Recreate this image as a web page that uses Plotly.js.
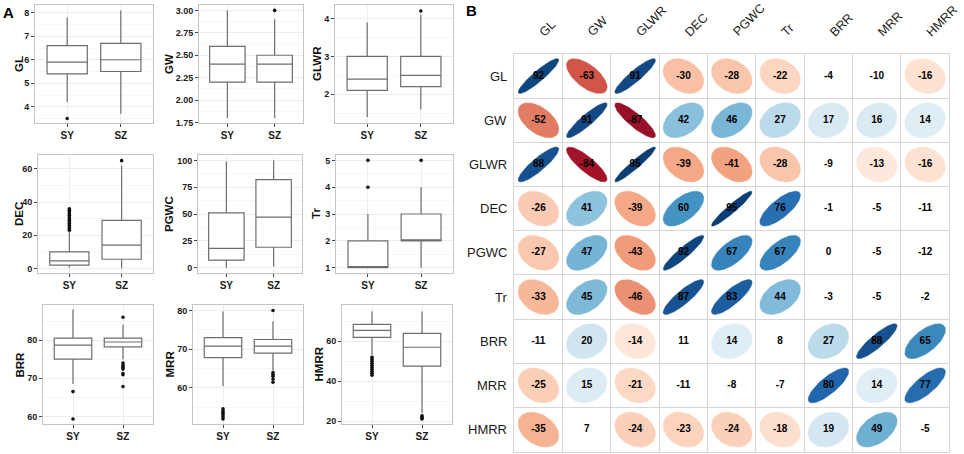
<!DOCTYPE html>
<html><head><meta charset="utf-8">
<script src="https://cdn.plot.ly/plotly-3.0.1.min.js"></script>
<style>html,body{margin:0;padding:0;background:#fff;}#chart{width:964px;height:454px;}</style>
</head><body><div id="chart"></div>
<script>
// ---------- DATA ----------
const groups = ['SY', 'SZ'];
const boxVars = ['GL', 'GW', 'GLWR', 'DEC', 'PGWC', 'Tr', 'BRR', 'MRR', 'HMRR'];
// each: [lower whisker, Q1, median, Q3, upper whisker] for SY, SZ
const boxGL   = [[4.2, 5.4, 5.9, 6.6, 7.8], [3.7, 5.5, 6.0, 6.7, 8.1]];
const boxGW   = [[1.8, 2.2, 2.4, 2.6, 3.0], [1.8, 2.2, 2.4, 2.5, 2.9]];
const boxGLWR = [[1.4, 2.1, 2.4, 3.0, 3.9], [1.6, 2.2, 2.5, 3.0, 4.1]];
const boxDEC  = [[0.5, 2, 4.5, 10, 22], [0, 5.5, 14, 29, 62]];
const boxPGWC = [[0, 7, 18, 51, 99], [1, 19, 47, 82, 100]];
const boxTr   = [[1, 1, 1, 2, 3], [1, 2, 2, 3, 4]];
const boxBRR  = [[68.5, 75, 78.7, 80.5, 88], [75, 78.2, 79.5, 80.5, 84]];
const boxMRR  = [[60.5, 67.8, 70.8, 73, 79.7], [64.5, 69, 70.8, 72.5, 77.2]];
const boxHMRR = [[53, 62, 65.5, 68.5, 75], [24, 47.5, 57, 64, 75]];
// outliers for SY, SZ
const outGL   = [[3.5], []];
const outGW   = [[], [3.0]];
const outGLWR = [[], [4.2]];
const outDEC  = [[23, 24, 25, 26, 27, 28, 29, 30, 31, 32, 33, 34, 35, 36], [65]];
const outPGWC = [[], []];
const outTr   = [[4, 5], [5]];
const outBRR  = [[66.5, 59.3], [86, 74, 73.4, 72.9, 72.4, 71.2, 70.9, 67.8]];
const outMRR  = [[54.6, 54, 53.5, 53, 52.5, 52], [80, 64, 63.5, 63, 62.3, 61.5]];
const outHMRR = [[52, 51, 50, 49, 48, 47, 46, 45, 44, 43], [22.6, 22, 21.5, 21]];

const corrVars = ['GL', 'GW', 'GLWR', 'DEC', 'PGWC', 'Tr', 'BRR', 'MRR', 'HMRR'];
const corrValues = [
  [92, -63, 91, -30, -28, -22, -4, -10, -16],
  [-52, 91, -87, 42, 46, 27, 17, 16, 14],
  [88, -84, 95, -39, -41, -28, -9, -13, -16],
  [-26, 41, -39, 60, 95, 76, -1, -5, -11],
  [-27, 47, -43, 92, 67, 67, 0, -5, -12],
  [-33, 45, -46, 87, 83, 44, -3, -5, -2],
  [-11, 20, -14, 11, 14, 8, 27, 88, 65],
  [-25, 15, -21, -11, -8, -7, 80, 14, 77],
  [-35, 7, -24, -23, -24, -18, 19, 49, -5]
];
const minShown = 13; // cells with |r| below this show only the number

// ---------- LAYOUT CONFIG ----------
const W = 964, H = 454;
const FONT = 'Liberation Sans, Arial, sans-serif';
const boxData = [boxGL, boxGW, boxGLWR, boxDEC, boxPGWC, boxTr, boxBRR, boxMRR, boxHMRR];
const outData = [outGL, outGW, outGLWR, outDEC, outPGWC, outTr, outBRR, outMRR, outHMRR];
const panelCfg = [
  {px: [35, 153], py: [5, 123], range: [3.31, 8.33], tick0: 4, dtick: 1, fmt: '', tx: 19},
  {px: [199, 303], py: [5, 123], range: [1.745, 3.06], tick0: 1.75, dtick: 0.25, fmt: '.2f', tx: 169},
  {px: [335, 453], py: [5, 123], range: [1.24, 4.36], tick0: 2, dtick: 1, fmt: '', tx: 317},
  {px: [38, 153], py: [155, 273], range: [-2.8, 68.4], tick0: 0, dtick: 20, fmt: '', tx: 19},
  {px: [198, 302], py: [155, 273], range: [-5, 105], tick0: 0, dtick: 25, fmt: '', tx: 169},
  {px: [336, 453], py: [155, 273], range: [0.8, 5.2], tick0: 1, dtick: 1, fmt: '', tx: 316},
  {px: [43, 153], py: [305, 424], range: [58.0, 89.2], tick0: 60, dtick: 10, fmt: '', tx: 19},
  {px: [193, 303], py: [305, 424], range: [50.7, 81.4], tick0: 60, dtick: 10, fmt: '', tx: 169},
  {px: [342, 452], py: [305, 424], range: [18.5, 78.2], tick0: 20, dtick: 20, fmt: '', tx: 318}
];

const traces = [];
const layout = {
  width: W, height: H,
  margin: {l: 0, r: 0, t: 0, b: 0},
  paper_bgcolor: '#fff', plot_bgcolor: '#fff',
  showlegend: false,
  font: {family: FONT, color: '#1a1a1a'},
  annotations: []
};

panelCfg.forEach((c, i) => {
  const n = i + 1;
  const xr = n === 1 ? 'x' : 'x' + n, yr = n === 1 ? 'y' : 'y' + n;
  const xk = n === 1 ? 'xaxis' : 'xaxis' + n, yk = n === 1 ? 'yaxis' : 'yaxis' + n;
  const b = boxData[i];
  traces.push({
    type: 'box', xaxis: xr, yaxis: yr,
    x: groups,
    lowerfence: b.map(s => s[0]), q1: b.map(s => s[1]), median: b.map(s => s[2]),
    q3: b.map(s => s[3]), upperfence: b.map(s => s[4]),
    boxpoints: false, whiskerwidth: 0, width: 0.75,
    fillcolor: '#ffffff', line: {color: '#6e6e6e', width: 1.2},
    hoverinfo: 'skip'
  });
  const o = outData[i];
  const ox = [], oy = [];
  groups.forEach((g, gi) => o[gi].forEach(v => { ox.push(g); oy.push(v); }));
  if (oy.length) traces.push({
    type: 'scatter', mode: 'markers', xaxis: xr, yaxis: yr, x: ox, y: oy,
    marker: {color: '#111', size: 3.6}, hoverinfo: 'skip'
  });
  layout[xk] = {
    domain: [c.px[0] / W, c.px[1] / W], anchor: yr,
    type: 'category', categoryarray: groups, range: [-0.6, 1.6],
    showgrid: true, gridcolor: '#ececec', gridwidth: 1,
    showline: true, mirror: true, linecolor: '#c4c4c4', linewidth: 1,
    ticks: 'outside', ticklen: 3, tickcolor: '#444',
    tickfont: {family: FONT, size: 10, color: '#1a1a1a', weight: 'bold'},
    zeroline: false, fixedrange: true
  };
  layout[yk] = {
    domain: [1 - c.py[1] / H, 1 - c.py[0] / H], anchor: xr,
    range: c.range, tickmode: 'linear', tick0: c.tick0, dtick: c.dtick, tickformat: c.fmt,
    showgrid: true, gridcolor: '#ececec', gridwidth: 1,
    minor: {dtick: c.dtick / 2, tick0: c.tick0, showgrid: true, gridcolor: '#f6f6f6', ticks: ''},
    showline: true, mirror: true, linecolor: '#c4c4c4', linewidth: 1,
    ticks: 'outside', ticklen: 3, tickcolor: '#444', ticklabelstandoff: 0,
    tickfont: {family: FONT, size: 9, color: '#1a1a1a', weight: 'bold'},
    zeroline: false, fixedrange: true
  };
  layout.annotations.push({
    text: boxVars[i], xref: 'paper', yref: 'paper',
    x: c.tx / W, y: 1 - (c.py[0] + c.py[1]) / 2 / H,
    textangle: -90, showarrow: false, xanchor: 'center', yanchor: 'middle',
    font: {family: FONT, size: 11.5, color: '#111', weight: 'bold'}
  });
});

// ---------- Correlation panel ----------
const palette = ['#67001F', '#B2182B', '#D6604D', '#F4A582', '#FDDBC7', '#FFFFFF',
                 '#D1E5F0', '#92C5DE', '#4393C3', '#2166AC', '#053061'];
function hex2rgb(h) { return [1, 3, 5].map(k => parseInt(h.substr(k, 2), 16)); }
function corrColor(r) {
  const t = (r + 1) / 2 * (palette.length - 1);
  const k = Math.min(Math.floor(t), palette.length - 2);
  const f = t - k;
  const a = hex2rgb(palette[k]), b = hex2rgb(palette[k + 1]);
  const c = a.map((v, j) => Math.round(v + (b[j] - v) * f));
  return 'rgb(' + c.join(',') + ')';
}
const gx = [514.3, 949.3], gy = [54, 451.7];
const SX = 0.84, SY = 0.79;
const nC = corrVars.length;
const tx = [], ty = [], tt = [];
corrValues.forEach((row, i) => {
  row.forEach((v, j) => {
    const cx = j + 0.5, cy = i + 0.5;
    tx.push(cx); ty.push(cy); tt.push(String(v));
    if (Math.abs(v) >= minShown) {
      const r = v / 100, d = Math.acos(r);
      const ex = [], ey = [];
      for (let k = 0; k <= 72; k++) {
        const t = k / 72 * 2 * Math.PI;
        ex.push(cx + SX * Math.cos(t + d / 2) / 2);
        ey.push(cy - SY * Math.cos(t - d / 2) / 2);
      }
      const col = corrColor(r);
      traces.push({
        type: 'scatter', mode: 'lines', xaxis: 'x10', yaxis: 'y10',
        x: ex, y: ey, fill: 'toself', fillcolor: col,
        line: {color: col, width: 0.5}, hoverinfo: 'skip'
      });
    }
  });
});
traces.push({
  type: 'scatter', mode: 'text', xaxis: 'x10', yaxis: 'y10',
  x: tx, y: ty, text: tt,
  textfont: {family: FONT, size: 10, color: '#000', weight: 'bold'},
  hoverinfo: 'skip'
});
const idx = corrVars.map((_, k) => k);
layout.xaxis10 = {
  domain: [gx[0] / W, gx[1] / W], anchor: 'y10', range: [0, nC],
  tickmode: 'array', tickvals: idx.concat([nC]), showticklabels: false, ticks: '',
  showgrid: true, gridcolor: '#d6d6d6', gridwidth: 1,
  showline: true, mirror: true, linecolor: '#d6d6d6', linewidth: 1,
  zeroline: false, fixedrange: true
};
layout.yaxis10 = {
  domain: [1 - gy[1] / H, 1 - gy[0] / H], anchor: 'x10', range: [nC, 0],
  tickmode: 'array', tickvals: idx.concat([nC]), showticklabels: false, ticks: '',
  showgrid: true, gridcolor: '#d6d6d6', gridwidth: 1,
  showline: true, mirror: true, linecolor: '#d6d6d6', linewidth: 1,
  zeroline: false, fixedrange: true
};
const cw = (gx[1] - gx[0]) / nC, ch = (gy[1] - gy[0]) / nC;
const LBL = 12.5;
const measureCtx = document.createElement('canvas').getContext('2d');
measureCtx.font = LBL + 'px "Liberation Sans", Arial, sans-serif';
corrVars.forEach((v, k) => {
  // row labels
  layout.annotations.push({
    text: v, xref: 'paper', yref: 'paper',
    x: 509 / W, y: 1 - (gy[0] + (k + 0.5) * ch) / H,
    xanchor: 'right', yanchor: 'middle', showarrow: false,
    font: {family: FONT, size: 13, color: '#1a1a1a'}
  });
  // column labels: text starts just above-right of the column centre and runs up at 45 degrees
  const L = measureCtx.measureText(v).width;
  const half = L * 0.3536;
  const ccx = gx[0] + (k + 0.5) * cw + 3.6 + half;
  const ccy = 34 - half;
  layout.annotations.push({
    text: v, xref: 'paper', yref: 'paper',
    x: ccx / W, y: 1 - ccy / H,
    xanchor: 'center', yanchor: 'middle', textangle: -45, showarrow: false,
    font: {family: FONT, size: LBL, color: '#1a1a1a'}
  });
});
// panel letters
layout.annotations.push({text: 'A', xref: 'paper', yref: 'paper', x: 1 / W, y: 1 - 2 / H,
  xanchor: 'left', yanchor: 'top', showarrow: false,
  font: {family: FONT, size: 15, color: '#000', weight: 'bold'}});
layout.annotations.push({text: 'B', xref: 'paper', yref: 'paper', x: 464 / W, y: 1 - 0 / H,
  xanchor: 'left', yanchor: 'top', showarrow: false,
  font: {family: FONT, size: 15, color: '#000', weight: 'bold'}});

Plotly.newPlot('chart', traces, layout, {staticPlot: true, displayModeBar: false});
</script>
</body></html>
